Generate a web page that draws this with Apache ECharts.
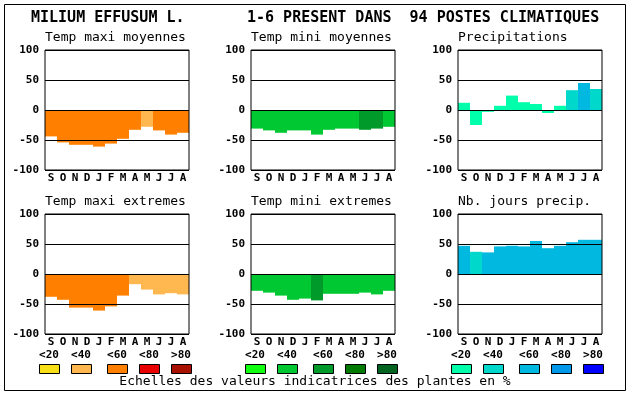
<!DOCTYPE html>
<html>
<head>
<meta charset="utf-8">
<script src="https://cdn.jsdelivr.net/npm/echarts@6/dist/echarts.min.js"></script>
<style>html,body{margin:0;padding:0;background:#fff}#c{width:630px;height:394px}</style>
</head>
<body>
<div id="c"></div>
<script>
const months = ['S','O','N','D','J','F','M','A','M','J','J','A'];
const yTicks = [-100, -50, 0, 50, 100];

const tmaxMoy    = [-44, -54, -58, -58, -61, -56, -48, -33, -28, -34, -41, -38];
const tmaxMoyCls = [3,3,3,3,3,3,3,3,2,3,3,3];
const tminMoy    = [-31, -34, -38, -34, -34, -41, -33, -31, -31, -33, -31, -28];
const tminMoyCls = [2,2,2,2,2,2,2,2,2,3,3,2];
const precip     = [12, -25, -3, 7, 24, 13, 10, -5, 7, 33, 45, 35];
const precipCls  = [1,1,1,1,1,1,1,1,1,2,3,2];
const tmaxExt    = [-38, -43, -56, -56, -61, -54, -36, -17, -26, -34, -32, -34];
const tmaxExtCls = [3,3,3,3,3,3,3,2,2,2,2,2];
const tminExt    = [-28, -31, -36, -43, -41, -44, -33, -33, -33, -31, -34, -28];
const tminExtCls = [2,2,2,2,2,3,2,2,2,2,2,2];
const nbJours    = [47, 37, 36, 46, 47, 46, 55, 43, 47, 53, 57, 57];
const nbJoursCls = [3,2,3,3,3,3,3,3,3,3,3,3];

const classLabels = ['<20','<40','<60','<80','>80'];
const warmColors  = ['#F8E018','#FFB850','#FF8000','#E80000','#A81000'];
const greenColors = ['#10FF10','#00C832','#009A2A','#007A00','#006420'];
const blueColors  = ['#00FFAA','#00D8CC','#00B8E0','#0098E8','#0000FF'];

const mainTitle = 'MILIUM EFFUSUM L.';
const subTitle = '1-6 PRESENT DANS  94 POSTES CLIMATIQUES';
const footer = 'Echelles des valeurs indicatrices des plantes en %';

const panels = [
  {name:'Temp maxi moyennes', vals:tmaxMoy, cls:tmaxMoyCls, pal:warmColors, left:45, top:50},
  {name:'Temp mini moyennes', vals:tminMoy, cls:tminMoyCls, pal:greenColors, left:251, top:50},
  {name:'Precipitations', vals:precip, cls:precipCls, pal:blueColors, left:458, top:50},
  {name:'Temp maxi extremes', vals:tmaxExt, cls:tmaxExtCls, pal:warmColors, left:45, top:214},
  {name:'Temp mini extremes', vals:tminExt, cls:tminExtCls, pal:greenColors, left:251, top:214},
  {name:'Nb. jours precip.', vals:nbJours, cls:nbJoursCls, pal:blueColors, left:458, top:214}
];

const MONO = "'DejaVu Sans Mono', 'Liberation Mono', monospace";
const grids = [], xAxes = [], yAxes = [], series = [], graphics = [];

panels.forEach((p, i) => {
  grids.push({left:p.left, top:p.top, width:144, height:120, show:true,
    borderColor:'#000', borderWidth:1, backgroundColor:'transparent', z:3, containLabel:false});
  xAxes.push({type:'category', gridIndex:i, data:months,
    axisLine:{show:false}, axisTick:{show:false}, splitLine:{show:false},
    axisLabel:{interval:0, margin:3, color:'#000', fontFamily:MONO, fontWeight:'bold', fontSize:11}});
  yAxes.push({type:'value', gridIndex:i, min:yTicks[0], max:yTicks[yTicks.length-1], interval:50, z:3,
    axisLine:{show:false}, axisTick:{show:false},
    splitLine:{show:true, lineStyle:{color:'#000', width:1}},
    axisLabel:{margin:6, color:'#000', fontFamily:MONO, fontWeight:'bold', fontSize:11}});
  series.push({type:'bar', xAxisIndex:i, yAxisIndex:i, barWidth:'100%', barGap:'0%', z:1,
    animation:false,
    data:p.vals.map((v, k) => ({value:v, itemStyle:{color:p.pal[p.cls[k]-1]}}))});
  graphics.push({type:'text', x:p.left, y:p.top - 12, style:{text:p.name, font:'13px ' + MONO,
    fill:'#000', align:'left', verticalAlign:'middle'}});
});

graphics.push({type:'rect', shape:{x:4.5, y:4.5, width:621, height:386}, style:{fill:'none', stroke:'#000', lineWidth:1}});
graphics.push({type:'text', x:31, y:18, style:{text:mainTitle, font:'bold 15px ' + MONO, fill:'#000', align:'left', verticalAlign:'middle'}});
graphics.push({type:'text', x:247, y:18, style:{text:subTitle, font:'bold 15px ' + MONO, fill:'#000', align:'left', verticalAlign:'middle'}});
graphics.push({type:'text', x:315, y:382, style:{text:footer, font:'13px ' + MONO, fill:'#000', align:'center', verticalAlign:'middle'}});

const legendGroups = [
  {pal:warmColors, xs:[39,71,107,139,171]},
  {pal:greenColors, xs:[245,277,313,345,377]},
  {pal:blueColors, xs:[451,483,519,551,583]}
];
legendGroups.forEach(g => {
  g.xs.forEach((x, k) => {
    graphics.push({type:'rect', shape:{x:x+0.5, y:364.5, width:20, height:9},
      style:{fill:g.pal[k], stroke:'#000', lineWidth:1}});
    graphics.push({type:'text', x:x+10, y:355, style:{text:classLabels[k], font:'bold 11px ' + MONO,
      fill:'#000', align:'center', verticalAlign:'middle'}});
  });
});

const chart = echarts.init(document.getElementById('c'), null, {renderer:'canvas'});
chart.setOption({animation:false, backgroundColor:'#fff', grid:grids, xAxis:xAxes, yAxis:yAxes, series:series, graphic:graphics});
</script>
</body>
</html>
